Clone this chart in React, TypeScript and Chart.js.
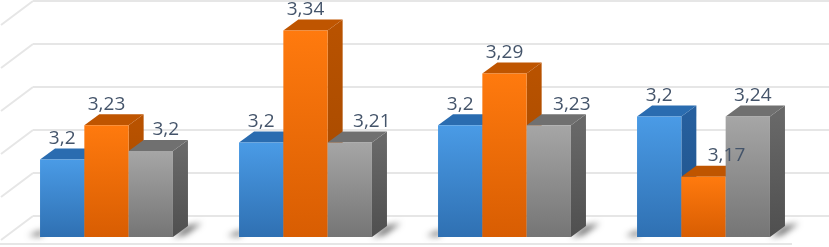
import React, { useEffect, useRef } from "react";
import { Chart, registerables } from "chart.js";

Chart.register(...registerables);

const categories = ["1", "2", "3", "4"];
const blueValues = [3.19, 3.21, 3.23, 3.24];
const orangeValues = [3.23, 3.34, 3.29, 3.17];
const grayValues = [3.2, 3.21, 3.23, 3.24];
const blueLabels = ["3,2", "3,2", "3,2", "3,2"];
const orangeLabels = ["3,23", "3,34", "3,29", "3,17"];
const grayLabels = ["3,2", "3,21", "3,23", "3,24"];

const allLabels = [blueLabels, orangeLabels, grayLabels];
// horizontal nudge of each label away from its bar's centre
const labelNudge = [
  [0, 0, 0, 0],
  [0, 0, 0, 23],
  [15, 22, 23, 5],
];
const faces = [
  { front: ["#4a9be6", "#2f70b2"], side: ["#265f9e", "#1f5288"], top: "#2a6cb0" },
  { front: ["#ff7a0e", "#d85d02"], side: ["#b85200", "#a24800"], top: "#bf5500" },
  { front: ["#a6a6a6", "#757575"], side: ["#686868", "#4f4f4f"], top: "#707070" },
];
const DX = 15;
const DY = 11;
const WALL = 21;

const box3d = {
  id: "box3d",
  beforeDatasetsDraw(chart: any) {
    const { ctx, chartArea, scales } = chart;
    const y = scales.y;
    const base = y.getPixelForValue(3.1);
    ctx.save();
    ctx.strokeStyle = "#e6e6e6";
    ctx.lineWidth = 2;
    const wallX = chartArea.left + 26;
    y.ticks.forEach((t: any) => {
      const py = y.getPixelForValue(t.value) - WALL;
      ctx.beginPath();
      ctx.moveTo(wallX, py);
      ctx.lineTo(chart.width, py);
      ctx.stroke();
      ctx.beginPath();
      ctx.moveTo(wallX, py);
      ctx.lineTo(wallX - 32, py + 24);
      ctx.stroke();
    });
    ctx.beginPath();
    ctx.moveTo(0, base + 7);
    ctx.lineTo(chartArea.right - 11, base + 7);
    ctx.stroke();
    ctx.filter = "blur(3px)";
    ctx.fillStyle = "rgba(50,50,50,0.75)";
    const last = chart.getDatasetMeta(2).data;
    const first = chart.getDatasetMeta(0).data;
    last.forEach((bar: any, i: number) => {
      const r = bar.x + bar.width / 2;
      ctx.beginPath();
      ctx.moveTo(r, base);
      ctx.lineTo(r + 14, base - 11);
      ctx.lineTo(r + 29, base - 14);
      ctx.lineTo(r + 12, base - 2);
      ctx.closePath();
      ctx.fill();
      const l = first[i].x - first[i].width / 2;
      ctx.beginPath();
      ctx.moveTo(l + 2, base - 1);
      ctx.lineTo(l - 12, base - 1);
      ctx.lineTo(l + 2, base - 7);
      ctx.closePath();
      ctx.fill();
    });
    ctx.restore();
  },
  beforeDatasetDraw() {
    // the boxes are painted left to right below, so that each covers its neighbour's side
    return false;
  },
  afterDatasetsDraw(chart: any) {
    const { ctx } = chart;
    const base = chart.scales.y.getPixelForValue(3.1);
    faces.forEach((f, ds) => {
      ctx.save();
      chart.getDatasetMeta(ds).data.forEach((bar: any) => {
        const l = bar.x - bar.width / 2;
        const r = bar.x + bar.width / 2;
        const t = bar.y;
        const g = ctx.createLinearGradient(0, t, 0, base);
        g.addColorStop(0, f.side[0]);
        g.addColorStop(1, f.side[1]);
        ctx.fillStyle = g;
        ctx.beginPath();
        ctx.moveTo(r, t);
        ctx.lineTo(r + DX, t - DY);
        ctx.lineTo(r + DX, base - DY);
        ctx.lineTo(r, base);
        ctx.closePath();
        ctx.fill();
        ctx.fillStyle = f.top;
        ctx.beginPath();
        ctx.moveTo(l, t);
        ctx.lineTo(l + DX, t - DY);
        ctx.lineTo(r + DX, t - DY);
        ctx.lineTo(r, t);
        ctx.closePath();
        ctx.fill();
        bar.draw(ctx);
      });
      ctx.restore();
    });
    ctx.save();
    ctx.font = "19px 'Open Sans'";
    ctx.fillStyle = "#44546a";
    ctx.textAlign = "center";
    ctx.textBaseline = "middle";
    allLabels.forEach((labels, ds) => {
      chart.getDatasetMeta(ds).data.forEach((bar: any, i: number) => {
        ctx.fillText(labels[i], bar.x + labelNudge[ds][i], bar.y - 21);
      });
    });
    ctx.restore();
  },
};

function frontFill(ds: number) {
  return (c: any) => {
    const chart = c.chart;
    if (!chart.chartArea || c.parsed === undefined) return faces[ds].front[0];
    const y = chart.scales.y;
    const g = chart.ctx.createLinearGradient(0, y.getPixelForValue(c.parsed.y), 0, y.getPixelForValue(3.1));
    g.addColorStop(0, faces[ds].front[0]);
    g.addColorStop(1, faces[ds].front[1]);
    return g;
  };
}

export default function App() {
  const ref = useRef<HTMLCanvasElement>(null);
  useEffect(() => {
    document.body.style.margin = "0";
    const series = [blueValues, orangeValues, grayValues];
    const chart = new Chart(ref.current!, {
      type: "bar",
      data: {
        labels: categories,
        datasets: series.map((data, i) => ({
          data,
          base: 3.1,
          backgroundColor: frontFill(i),
          borderWidth: 0,
          categoryPercentage: 0.668,
          barPercentage: 1,
        })),
      },
      options: {
        animation: false,
        responsive: false,
        layout: { padding: { left: 7, right: 26, top: 22, bottom: 10 } },
        plugins: { legend: { display: false }, tooltip: { enabled: false } },
        scales: {
          x: { display: false },
          y: {
            display: false,
            min: 3.1,
            max: 3.35,
            ticks: { stepSize: 0.05 },
          },
        },
      },
      plugins: [box3d],
    } as any);
    return () => chart.destroy();
  }, []);
  return (
    <canvas
      ref={ref}
      width={829}
      height={247}
      style={{ display: "block", filter: "blur(0.6px)" }}
    />
  );
}
